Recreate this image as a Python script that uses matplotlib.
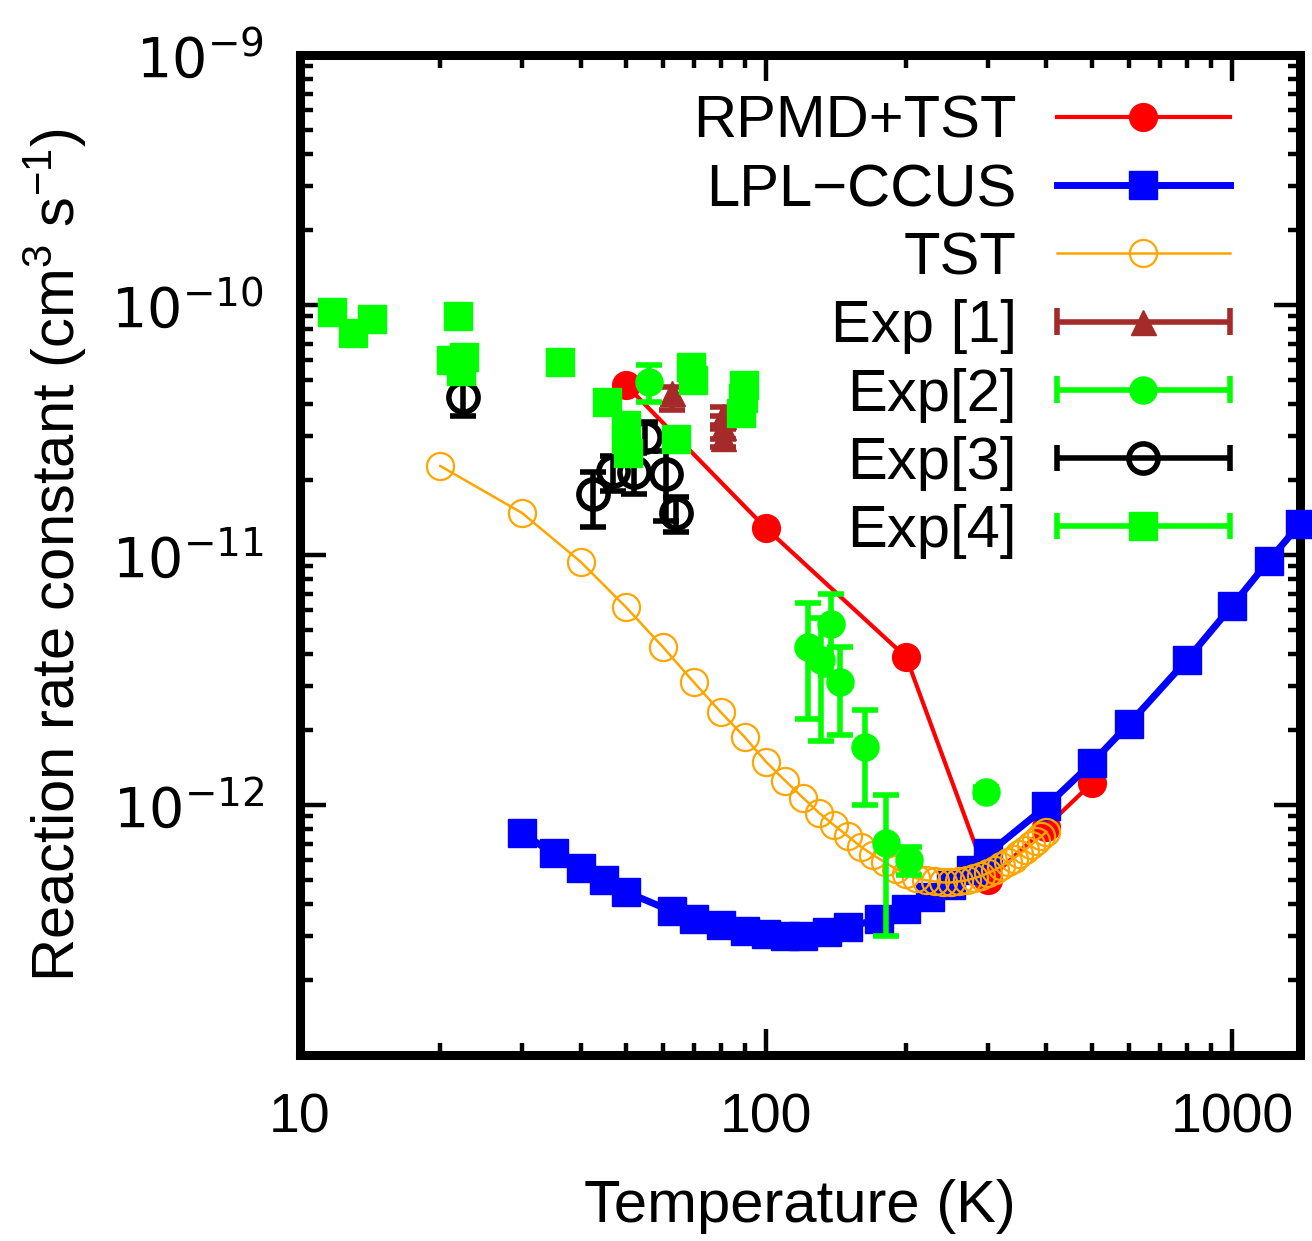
import numpy as np
import matplotlib
matplotlib.use('Agg')
import matplotlib.pyplot as plt
from matplotlib.lines import Line2D
from matplotlib.legend_handler import HandlerBase
from matplotlib.ticker import FixedLocator, LogLocator, NullFormatter, FuncFormatter

# ---------------- data ----------------
rpmd_T = [50, 100, 200, 300, 400, 500]
rpmd_k = [4.8e-11, 1.28e-11, 3.9e-12, 5.0e-13, 8.2e-13, 1.22e-12]

lpl_T = [30, 35, 40, 45, 50, 63, 70, 80, 90, 100, 110, 120, 135, 150, 175, 200,
         225, 250, 275, 300, 400, 500, 600, 800, 1000, 1200, 1400]
lpl_k = [7.7e-13, 6.4e-13, 5.6e-13, 5.0e-13, 4.5e-13, 3.75e-13, 3.5e-13, 3.3e-13,
         3.12e-13, 3.05e-13, 3.0e-13, 3.0e-13, 3.1e-13, 3.25e-13, 3.5e-13, 3.85e-13,
         4.3e-13, 4.8e-13, 5.5e-13, 6.4e-13, 9.9e-13, 1.47e-12, 2.1e-12, 3.8e-12,
         6.25e-12, 9.5e-12, 1.33e-11]

tst_T = [20, 30, 40, 50, 60, 70, 80, 90, 100, 110, 120, 130, 140, 150, 160, 170,
         180, 190, 200, 210, 220, 230, 240, 250, 260, 270, 280, 290, 300, 310, 320,
         330, 340, 350, 360, 370, 380, 390, 400]
tst_k = [2.27e-11, 1.47e-11, 9.4e-12, 6.2e-12, 4.3e-12, 3.1e-12, 2.35e-12, 1.87e-12,
         1.49e-12, 1.25e-12, 1.07e-12, 9.3e-13, 8.3e-13, 7.5e-13, 6.8e-13, 6.3e-13,
         5.9e-13, 5.55e-13, 5.3e-13, 5.1e-13, 5.0e-13, 4.95e-13, 4.9e-13, 4.9e-13,
         4.95e-13, 5.0e-13, 5.1e-13, 5.2e-13, 5.35e-13, 5.5e-13, 5.7e-13, 5.9e-13,
         6.1e-13, 6.35e-13, 6.6e-13, 6.9e-13, 7.2e-13, 7.5e-13, 7.8e-13]

exp1_T = [63, 81, 81, 81]
exp1_k = [4.45e-11, 3.6e-11, 3.25e-11, 2.95e-11]
exp1_lo = [3.8e-11, 3.2e-11, 2.9e-11, 2.7e-11]
exp1_hi = [4.7e-11, 3.9e-11, 3.6e-11, 3.3e-11]

exp2_T = [56, 123, 131, 138, 144, 163, 181, 203, 297]
exp2_k = [4.9e-11, 4.3e-12, 3.8e-12, 5.3e-12, 3.1e-12, 1.7e-12, 7.05e-13, 6.0e-13, 1.13e-12]
exp2_lo = [4.1e-11, 2.2e-12, 1.8e-12, 3.3e-12, 1.9e-12, 1.0e-12, 3.0e-13, 5.25e-13, 1.08e-12]
exp2_hi = [5.75e-11, 6.4e-12, 5.6e-12, 7.0e-12, 4.3e-12, 2.4e-12, 1.1e-12, 6.8e-13, 1.18e-12]

exp3_T = [22.4, 42.5, 47, 52, 55, 61, 64]
exp3_k = [4.3e-11, 1.75e-11, 2.17e-11, 2.15e-11, 2.96e-11, 2.1e-11, 1.47e-11]
exp3_lo = [3.6e-11, 1.3e-11, 1.8e-11, 1.75e-11, 2.6e-11, 1.37e-11, 1.24e-11]
exp3_hi = [5.1e-11, 2.15e-11, 2.5e-11, 2.55e-11, 3.4e-11, 2.6e-11, 1.71e-11]

exp4_T = [11.7, 13.0, 14.3, 21.8, 21.1, 22.5, 22.2, 36.2, 45.5, 50.2, 50.0, 50.5,
          64, 69, 69.6, 89.8, 89.3, 88.3]
exp4_k = [9.4e-11, 7.7e-11, 8.8e-11, 9.0e-11, 6.0e-11, 6.2e-11, 5.45e-11, 5.9e-11,
          4.1e-11, 3.3e-11, 2.9e-11, 2.56e-11, 2.9e-11, 5.65e-11, 5.0e-11, 4.8e-11,
          4.25e-11, 3.7e-11]

labels = ['RPMD+TST', 'LPL\u2212CCUS', 'TST', 'Exp [1]', 'Exp[2]', 'Exp[3]', 'Exp[4]']
x_ticks = [10, 100, 1000]
y_ticks = [1e-12, 1e-11, 1e-10, 1e-9]

# ---------------- style ----------------
plt.rcParams['font.family'] = ['Liberation Sans', 'DejaVu Sans']
plt.rcParams['mathtext.fontset'] = 'custom'
plt.rcParams['mathtext.rm'] = 'Liberation Sans'
plt.rcParams['mathtext.default'] = 'regular'

RED, BLUE, ORANGE, BROWN, LIME = '#ff0000', '#0000ff', '#ffa500', '#a52a2a', '#00ff00'

fig = plt.figure(figsize=(13.12, 12.41), dpi=100)
ax = fig.add_axes([300 / 1312, 1 - 1055 / 1241, 1000 / 1312, 1000 / 1241])
ax.set_xscale('log')
ax.set_yscale('log')

ax.plot(rpmd_T, rpmd_k, '-o', color=RED, lw=3, ms=20, zorder=3)
ax.plot(lpl_T, lpl_k, '-s', color=BLUE, lw=5, ms=19.5, zorder=4, clip_on=False)
ax.plot(tst_T, tst_k, '-o', color=ORANGE, lw=1.8, ms=19.5, mfc='none', mew=1.6, zorder=5)


def yerr(k, lo, hi):
    k = np.asarray(k); return [k - np.asarray(lo), np.asarray(hi) - k]


ebkw = dict(elinewidth=4, capsize=9.5, capthick=4, ls='none')
ax.errorbar(exp1_T, exp1_k, yerr=yerr(exp1_k, exp1_lo, exp1_hi), marker='^', ms=18,
            color=BROWN, zorder=6, **ebkw)
ax.errorbar(exp2_T, exp2_k, yerr=yerr(exp2_k, exp2_lo, exp2_hi), marker='o', ms=19.5,
            color=LIME, zorder=7, **ebkw)
ax.errorbar(exp3_T, exp3_k, yerr=yerr(exp3_k, exp3_lo, exp3_hi), marker='o', ms=21,
            mfc='none', mec='black', mew=4, color='black', zorder=8, **ebkw)
ax.plot(exp4_T, exp4_k, 's', color=LIME, ms=19.5, zorder=9)

ax.set_xlim(10, 1400)
ax.set_ylim(1e-13, 1e-9)

ax.xaxis.set_major_locator(FixedLocator(x_ticks))
ax.xaxis.set_major_formatter(FuncFormatter(lambda v, p: f'{v:g}'))
ax.xaxis.set_minor_locator(LogLocator(base=10, subs=np.arange(2, 10), numticks=50))
ax.xaxis.set_minor_formatter(NullFormatter())
ax.yaxis.set_major_locator(FixedLocator(y_ticks))
ax.yaxis.set_major_formatter(FuncFormatter(lambda v, p: r'$10^{%d}$' % round(np.log10(v))))
ax.yaxis.set_minor_locator(LogLocator(base=10, subs=np.arange(2, 10), numticks=50))
ax.yaxis.set_minor_formatter(NullFormatter())

ax.tick_params(which='both', direction='in', top=True, right=True, width=3.2)
ax.tick_params(which='major', length=19)
ax.tick_params(which='minor', length=9)
ax.tick_params(axis='x', which='major', labelsize=40, pad=27)
ax.tick_params(axis='y', which='major', labelsize=40, pad=26, labelfontfamily='DejaVu Sans')
for s in ax.spines.values():
    s.set_linewidth(6.5)

ax.set_xlabel('Temperature (K)', fontsize=43)
ax.xaxis.set_label_coords(0.5, -0.124)
ax.set_ylabel('Reaction rate constant (cm$^3$ s$^{-1}$)', fontsize=43)
ax.yaxis.set_label_coords(-0.211, 0.5)


# ---------------- legend ----------------
class ErrHandler(HandlerBase):
    def create_artists(self, legend, orig, xdescent, ydescent, width, height, fontsize, trans):
        y = (height - ydescent) / 2.0
        x0, x1 = -xdescent, width - xdescent
        c = orig.get_color()
        lw = orig.get_linewidth()
        cap = 9.5
        arts = [Line2D([x0, x1], [y, y], color=c, lw=lw, solid_capstyle='butt'),
                Line2D([x0, x0], [y - cap, y + cap], color=c, lw=lw, solid_capstyle='butt'),
                Line2D([x1, x1], [y - cap, y + cap], color=c, lw=lw, solid_capstyle='butt'),
                Line2D([(x0 + x1) / 2], [y], ls='none', marker=orig.get_marker(),
                       ms=orig.get_markersize(), mfc=orig.get_markerfacecolor(),
                       mec=orig.get_markeredgecolor(), mew=orig.get_markeredgewidth())]
        for a in arts:
            a.set_transform(trans)
        return arts


h1 = Line2D([], [], color=RED, lw=3, marker='o', ms=20)
h2 = Line2D([], [], color=BLUE, lw=5, marker='s', ms=19.5)
h3 = Line2D([], [], color=ORANGE, lw=1.8, marker='o', ms=19.5, mfc='none', mew=1.6)
h4 = Line2D([], [], color=BROWN, lw=4, marker='^', ms=18)
h5 = Line2D([], [], color=LIME, lw=4, marker='o', ms=19.5)
h6 = Line2D([], [], color='black', lw=4, marker='o', ms=21, mfc='none', mew=4)
h7 = Line2D([], [], color=LIME, lw=4, marker='s', ms=19.5)
hm = {h: ErrHandler() for h in (h4, h5, h6, h7)}
ax.legend([h1, h2, h3, h4, h5, h6, h7], labels, loc='upper right',
          bbox_to_anchor=(0.93, 0.96), frameon=False, markerfirst=False, numpoints=1,
          fontsize=43, handlelength=2.9, handletextpad=0.67, labelspacing=0.22,
          borderpad=0, borderaxespad=0, handler_map=hm)

fig.savefig('out.png', dpi=100)
